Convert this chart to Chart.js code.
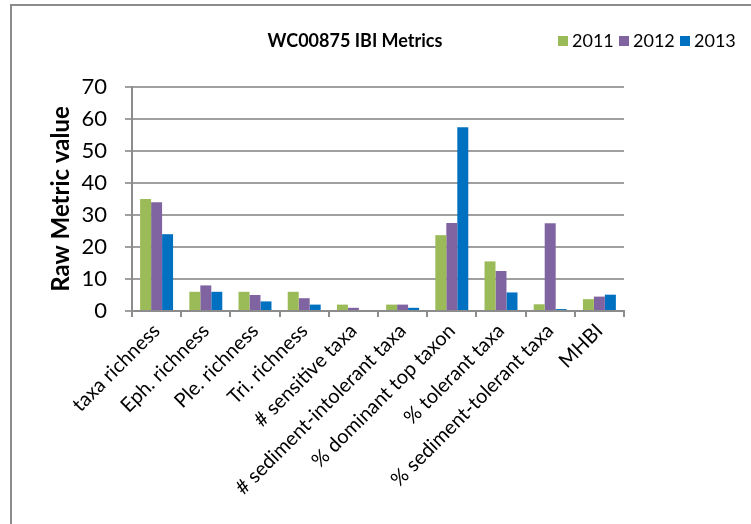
<!DOCTYPE html>
<html>
<head>
<meta charset="utf-8">
<script src="https://cdn.jsdelivr.net/npm/chart.js@4/dist/chart.umd.min.js"></script>
<style>
  html, body { margin: 0; padding: 0; background: #ffffff; }
  #wrap { position: relative; width: 751px; height: 524px; overflow: hidden; }
  #frame { position: absolute; left: 10px; top: 4px; width: 900px; height: 700px;
           border-left: 2px solid #8c8c8c; border-top: 2px solid #8c8c8c; }
  #c { position: absolute; left: 0; top: 0; }
</style>
</head>
<body>
<div id="wrap">
  <div id="frame"></div>
  <canvas id="c" width="751" height="524"></canvas>
</div>
<script>
// IBI metric names along the x axis
const categories = [
  'taxa richness', 'Eph. richness', 'Ple. richness', 'Tri. richness',
  '# sensitive taxa', '# sediment-intolerant taxa', '% dominant top taxon',
  '% tolerant taxa', '% sediment-tolerant taxa', 'MHBI'
];

// Raw metric values per sampling year
const values2011 = [35, 6, 6, 6, 2, 2, 23.7, 15.5, 2.1, 3.7];
const values2012 = [34, 8, 5, 4, 1, 2, 27.5, 12.5, 27.4, 4.5];
const values2013 = [24, 6, 3, 2, 0, 1, 57.4, 5.8, 0.6, 5.1];

const seriesLabels = ['2011', '2012', '2013'];
const yTicks = [0, 10, 20, 30, 40, 50, 60, 70];

const chartTitle = 'WC00875 IBI Metrics';
const yAxisTitle = 'Raw Metric value';

const FONT = 'Lato, "Liberation Sans", sans-serif';
const colors = ['#9BBB59', '#8064A2', '#0070C0'];

// Title and legend share one row above the plot
const headerPlugin = {
  id: 'header',
  afterDraw(chart) {
    const ctx = chart.ctx;
    ctx.save();
    ctx.fillStyle = '#000000';
    ctx.textBaseline = 'middle';
    ctx.font = 'bold 18px ' + FONT;
    ctx.textAlign = 'center';
    ctx.fillText(chartTitle, 355, 41);

    ctx.font = '18px ' + FONT;
    ctx.textAlign = 'left';
    const starts = [558, 619, 680];
    chart.data.datasets.forEach((ds, i) => {
      ctx.fillStyle = ds.backgroundColor;
      ctx.fillRect(starts[i], 36, 10, 10);
      ctx.fillStyle = '#000000';
      ctx.fillText(ds.label, starts[i] + 14, 41);
    });
    ctx.restore();
  }
};

new Chart(document.getElementById('c'), {
  type: 'bar',
  data: {
    labels: categories,
    datasets: [
      { label: seriesLabels[0], data: values2011, backgroundColor: colors[0] },
      { label: seriesLabels[1], data: values2012, backgroundColor: colors[1] },
      { label: seriesLabels[2], data: values2013, backgroundColor: colors[2] }
    ]
  },
  options: {
    responsive: false,
    animation: false,
    devicePixelRatio: 1,
    layout: { padding: { left: 0, top: 87, right: 127, bottom: 0 } },
    datasets: { bar: { categoryPercentage: 0.67, barPercentage: 1.0, borderWidth: 0 } },
    plugins: {
      legend: { display: false },
      title: { display: false },
      tooltip: { enabled: false }
    },
    scales: {
      x: {
        afterFit(scale) { scale.height = 213; },
        grid: { drawOnChartArea: false, drawTicks: true, tickLength: 6, color: '#8c8c8c', lineWidth: 2, offset: true },
        border: { color: '#8c8c8c', width: 2 },
        ticks: {
          autoSkip: false, maxRotation: 45, minRotation: 45, padding: 2,
          color: '#000000', font: { family: FONT, size: 20 }
        }
      },
      y: {
        min: 0, max: 70,
        afterFit(scale) { scale.width = 132; },
        afterBuildTicks(scale) { scale.ticks = yTicks.map(v => ({ value: v })); },
        grid: { color: '#a0a0a0', lineWidth: 2, tickLength: 7 },
        border: { color: '#8c8c8c', width: 2 },
        ticks: { padding: 18, color: '#000000', font: { family: FONT, size: 22 } },
        title: {
          display: true, text: yAxisTitle, color: '#000000',
          font: { family: FONT, size: 24, weight: 'bold' },
          padding: { top: 47, bottom: 0 }
        }
      }
    }
  },
  plugins: [headerPlugin]
});
</script>
</body>
</html>
